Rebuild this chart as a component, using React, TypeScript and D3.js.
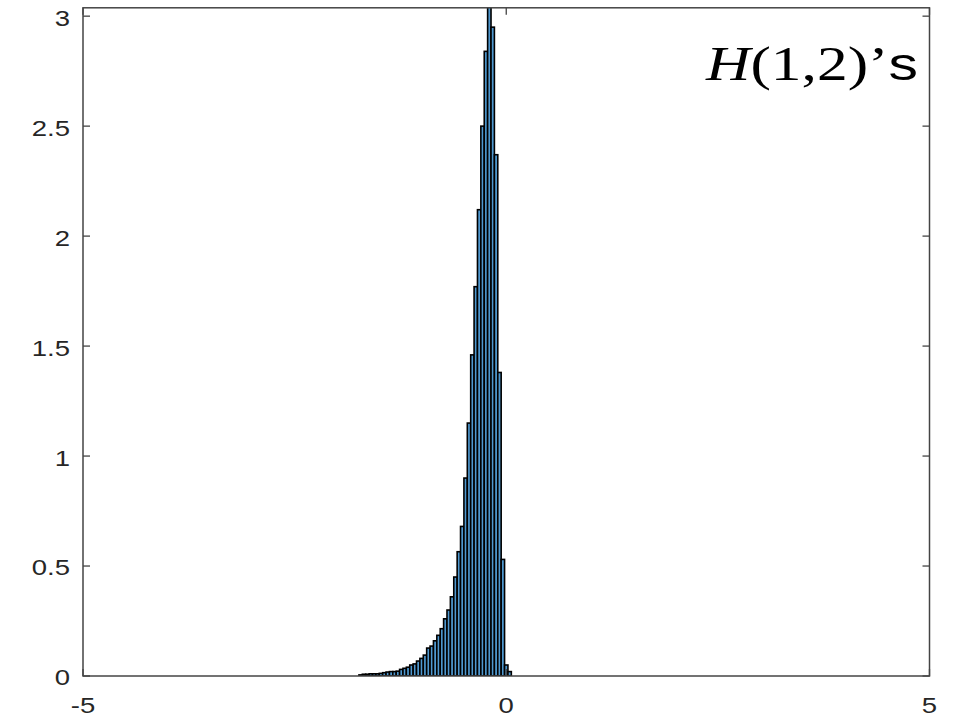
import React from 'react';
import * as d3 from 'd3';

// ---- data ----
const X_TICKS = [-5, 0, 5];
const X_TICK_LABELS = ['-5', '0', '5'];
const Y_TICKS = [0, 0.5, 1, 1.5, 2, 2.5, 3];
const Y_TICK_LABELS = ['0', '0.5', '1', '1.5', '2', '2.5', '3'];
const X_DOMAIN = [-5, 5];
const Y_DOMAIN = [0, 3.038];
const BIN_START = -1.74;
const BIN_WIDTH = 0.04;
// probability density per bin (left to right)
const DENSITY = [
  0.005, 0.008, 0.008, 0.01, 0.01, 0.01, 0.012, 0.015, 0.018, 0.02,
  0.02, 0.022, 0.03, 0.035, 0.04, 0.05, 0.055, 0.068, 0.08, 0.095,
  0.127, 0.136, 0.16, 0.185, 0.215, 0.26, 0.3, 0.36, 0.45, 0.565,
  0.68, 0.9, 1.15, 1.46, 1.77, 2.12, 2.5, 2.84, 3.2, 2.95,
  2.37, 1.38, 0.53, 0.05, 0.02,
];
const TITLE_ITALIC = 'H';
const TITLE_SERIF = '(1,2)\u2019';
const TITLE_SANS = 's';

export default function App() {
  const W = 954;
  const H = 718;
  const left = 83;
  const right = 929.5;
  const top = 7.8;
  const bottom = 676;

  const x = d3.scaleLinear().domain(X_DOMAIN).range([left, right]);
  const y = d3.scaleLinear().domain(Y_DOMAIN).range([bottom, top]);

  const bins = DENSITY.map((d, i) => ({
    x0: BIN_START + i * BIN_WIDTH,
    x1: BIN_START + (i + 1) * BIN_WIDTH,
    v: d,
  }));

  const axisColor = '#444';
  const textColor = '#262626';
  const tickLen = 7;
  const sx = 1.25;

  return (
    <svg
      width={W}
      height={H}
      style={{ position: 'absolute', left: 0, top: 0, background: '#fff' }}
    >
      <rect x={0} y={0} width={W} height={H} fill="#fff" />
      <defs>
        <clipPath id="plotclip">
          <rect x={left} y={top} width={right - left} height={bottom - top} />
        </clipPath>
      </defs>
      <g clipPath="url(#plotclip)">
        {bins.map((b, i) => (
          <rect
            key={i}
            x={x(b.x0)}
            width={x(b.x1) - x(b.x0)}
            y={y(b.v)}
            height={bottom - y(b.v)}
            fill="#4f98cf"
            stroke="#000"
            strokeWidth={1.6}
          />
        ))}
      </g>
      {/* box */}
      <rect
        x={left}
        y={top}
        width={right - left}
        height={bottom - top}
        fill="none"
        stroke={axisColor}
        strokeWidth={1.5}
      />
      {/* y ticks */}
      {Y_TICKS.map((t, i) => (
        <g key={'yt' + i}>
          <line x1={left} x2={left + tickLen} y1={y(t)} y2={y(t)} stroke={axisColor} strokeWidth={1.3} />
          <line x1={right} x2={right - tickLen} y1={y(t)} y2={y(t)} stroke={axisColor} strokeWidth={1.3} />
          <g transform={`translate(70,${y(t) + 1.5}) scale(${sx},1)`}>
            <text
              textAnchor="end"
              dominantBaseline="central"
              fontSize={22}
              fontFamily="'Liberation Sans', Arial, sans-serif"
              fill={textColor}
            >
              {Y_TICK_LABELS[i]}
            </text>
          </g>
        </g>
      ))}
      {/* x ticks */}
      {X_TICKS.map((t, i) => (
        <g key={'xt' + i}>
          <line x1={x(t)} x2={x(t)} y1={bottom} y2={bottom - tickLen} stroke={axisColor} strokeWidth={1.3} />
          <line x1={x(t)} x2={x(t)} y1={top} y2={top + tickLen} stroke={axisColor} strokeWidth={1.3} />
          <g transform={`translate(${x(t)},713) scale(${sx},1)`}>
            <text
              textAnchor="middle"
              fontSize={22}
              fontFamily="'Liberation Sans', Arial, sans-serif"
              fill={textColor}
            >
              {X_TICK_LABELS[i]}
            </text>
          </g>
        </g>
      ))}
      {/* annotation */}
      <g transform={`translate(918,80) scale(1.28,1)`}>
        <text textAnchor="end" fontSize={48} fill="#000">
          <tspan fontFamily="'Liberation Serif', 'Times New Roman', serif" fontStyle="italic">
            {TITLE_ITALIC}
          </tspan>
          <tspan fontFamily="'Liberation Serif', 'Times New Roman', serif">{TITLE_SERIF}</tspan>
          <tspan fontFamily="'Liberation Sans', Arial, sans-serif" fontSize={46}>
            {TITLE_SANS}
          </tspan>
        </text>
      </g>
    </svg>
  );
}
